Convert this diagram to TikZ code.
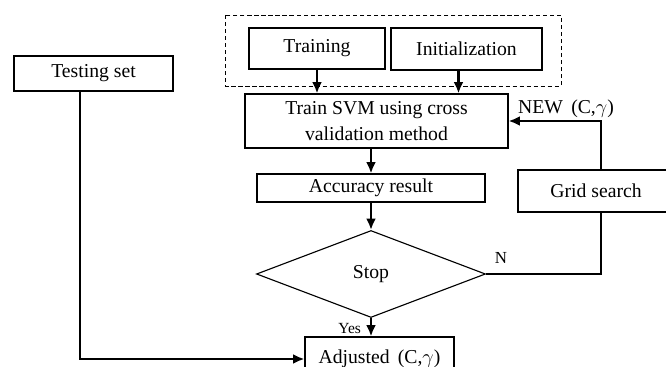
\documentclass[tikz,border=0pt]{standalone}
\usepackage{fontspec}
\setmainfont{Liberation Serif}
\usetikzlibrary{arrows.meta,calc,shapes.geometric}
\def\px{0.025cm}
\def\boxfont{\fontsize{14}{19}\selectfont}

\begin{document}
\begin{tikzpicture}[x=\px,y=-\px,
	box/.style={rectangle,draw,line width=0.8pt,inner sep=0pt,font=\boxfont},
	flow/.style={-{Latex[length=8pt,width=7pt]},line width=1.7pt},
	link/.style={line width=1.7pt}
	]
	\useasboundingbox (0,0) rectangle (666,367);
	
	\draw[dashed,line width=0.7pt,dash pattern=on 3pt off 2pt] (225,15) rectangle (561,86);
	\node[box,minimum width=136*\px,minimum height=41*\px] (train) at (317,48.5) {Training};
	\node[box,minimum width=151*\px,minimum height=42*\px] (init) at (466.5,49) {Initialization};
	\node[box,minimum width=159*\px,minimum height=35*\px] (test) at (93.5,73.5) {Testing set};
	\node[box,minimum width=263*\px,minimum height=54*\px,align=center] (svm) at (376.5,121) {Train SVM using cross\\validation method};
	\node[box,minimum width=228*\px,minimum height=28*\px] (acc) at (371,188) {Accuracy result};
	\node[box,diamond,minimum width=229*\px,minimum height=87*\px] (stop) at (371,274) {Stop};
	\node[box,minimum width=156*\px,minimum height=42*\px] (grid) at (596,191) {Grid search};
	\node[box,minimum width=149*\px,minimum height=44*\px] (adj) at (379.5,359) {Adjusted \,(C,$\gamma$)};
	
	\coordinate (initout) at ($(init.south)+(-8,0)$);
	\coordinate (testout) at ($(test.south)+(-13.5,0)$);
	\coordinate (turn) at (601,274);
	
	\draw[flow] (train.south) -- (train.south |- svm.north);
	\draw[flow] (initout) -- (initout |- svm.north);
	\draw[flow] (svm.south -| acc.north) -- (acc.north);
	\draw[flow] (acc.south) -- (stop.north);
	\draw[flow] (stop.south) -- node[left,font=\fontsize{11}{12}\selectfont,yshift=-1pt,xshift=-3pt] {Yes} (stop.south |- adj.north);
	\draw[link] (stop.east) node[above right,font=\fontsize{12}{13}\selectfont,xshift=2pt,yshift=3pt] {N} -- (turn) -- (turn |- grid.south);
	\draw[flow] (turn |- grid.north) -- (turn |- svm.east) -- node[above,font=\boxfont,xshift=8pt,yshift=-2pt] {NEW \,(C,$\gamma$)} (svm.east);
	\draw[flow] (testout) |- (adj.west);
\end{tikzpicture}
\end{document}
